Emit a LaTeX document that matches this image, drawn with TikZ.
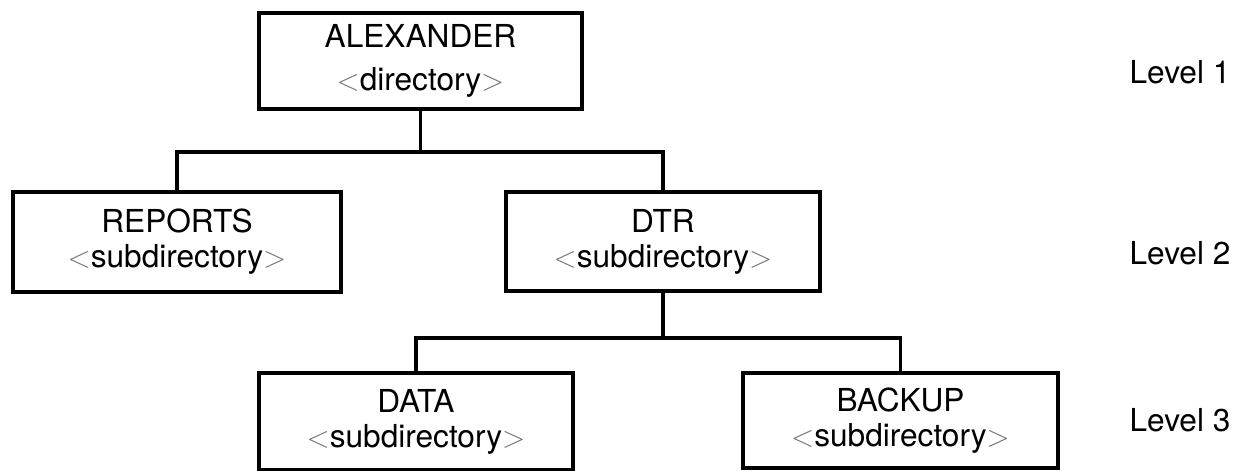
\documentclass[tikz,border=0pt]{standalone}
\usepackage{fontspec}
\setmainfont{TeX Gyre Heros}
\usepackage{tikz}

\newcommand{\dirtag}[1]{{\color{black!55}$<$}#1{\color{black!55}$>$}}

\tikzset{
  dirbox/.style={draw, line width=2.3pt, align=center, inner sep=0pt,
    minimum width=6.3cm, minimum height=1.95cm,
    font=\fontsize{18}{20}\selectfont},
  levellabel/.style={font=\fontsize{18}{20}\selectfont}
}

\begin{document}
\begin{tikzpicture}[line width=1.9pt]
                        \useasboundingbox (0,0) rectangle (24.76,9.42);
                        % Nodes
                        \node[dirbox, minimum width=6.46cm, minimum height=1.92cm] (alexander) at (8.41,8.20) {ALEXANDER\\[4.5pt]\dirtag{directory}};
                        \node[dirbox, minimum width=6.56cm, minimum height=2.0cm] (reports) at (3.54,4.58) {REPORTS\\\dirtag{subdirectory}};
                        \node[dirbox, minimum width=6.28cm, minimum height=1.98cm] (dtr) at (13.26,4.59) {DTR\\\dirtag{subdirectory}};
                        \node[dirbox, minimum width=6.28cm, minimum height=1.94cm] (data) at (8.32,0.99) {DATA\\\dirtag{subdirectory}};
                        \node[dirbox, minimum width=6.30cm, minimum height=1.90cm] (backup) at (18.01,1.01) {BACKUP\\\dirtag{subdirectory}};

                        \node[levellabel] (level1) at (23.6,7.98) {Level 1};
                        \node[levellabel] (level2) at (23.6,4.36) {Level 2};
                        \node[levellabel] (level3) at (23.6,1.02) {Level 3};

                        % Branch points
                        \coordinate (split1) at (8.41,6.38);
                        \coordinate (split2) at (13.26,2.66);

                        % Edges
                        \draw[-] (alexander) -- (split1);
                        \draw[-] (reports.north) |- (split1) -| (dtr.north);

                        \draw[-] (dtr) -- (split2);
                        \draw[-] (data.north) |- (split2) -| (backup.north);
                    \end{tikzpicture}
\end{document}
